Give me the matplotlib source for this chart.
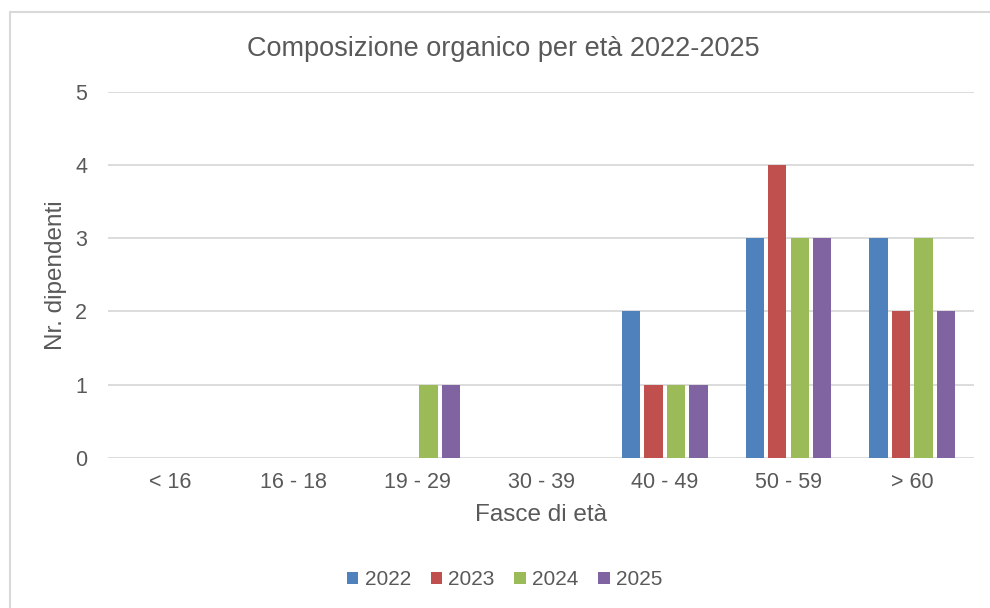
import matplotlib.pyplot as plt
import numpy as np
from matplotlib.patches import Rectangle

# %% Style
TEXT_COLOR = "#595959"
GRID_COLOR = "#D9D9D9"
COLORS = ["#4F81BD", "#C0504D", "#9BBB59", "#8064A2"]

plt.rcParams.update(
    {
        "font.family": ["Liberation Sans", "DejaVu Sans"],
        "font.size": 15,
        "text.color": TEXT_COLOR,
        "axes.labelcolor": TEXT_COLOR,
        "xtick.color": TEXT_COLOR,
        "ytick.color": TEXT_COLOR,
    }
)

# %% Data
age_groups = ["< 16", "16 - 18", "19 - 29", "30 - 39", "40 - 49", "50 - 59", "> 60"]
years = ["2022", "2023", "2024", "2025"]
counts_2022 = [0, 0, 0, 0, 2, 3, 3]
counts_2023 = [0, 0, 0, 0, 1, 4, 2]
counts_2024 = [0, 0, 1, 0, 1, 3, 3]
counts_2025 = [0, 0, 1, 0, 1, 3, 2]
series = [counts_2022, counts_2023, counts_2024, counts_2025]

# %% Plot
fig = plt.figure(figsize=(9.9, 6.08), dpi=100)
ax = fig.add_axes([0.109, 0.247, 0.875, 0.602])

# chart border (only top/left visible in the reference)
fig.patches.append(
    Rectangle((10 / 990, -0.05), 1.2, 1 - 12 / 608 + 0.05, transform=fig.transFigure,
              fill=False, edgecolor=GRID_COLOR, linewidth=1.5)
)

x = np.arange(len(age_groups))
step = 0.182
width = 0.148
for idx, vals in enumerate(series):
    ax.bar(x + (idx - 1.5) * step, vals, width=width, color=COLORS[idx],
           label=years[idx], zorder=3)

ax.set_xlim(-0.5, len(age_groups) - 0.5)
ax.set_ylim(0, 5)
ax.set_yticks(range(0, 6))
ax.set_xticks(x)
ax.set_xticklabels(age_groups)
ax.tick_params(axis="both", length=0, labelsize=15.5)
ax.tick_params(axis="y", pad=15)
ax.tick_params(axis="x", pad=10)
ax.grid(axis="y", color=GRID_COLOR, linewidth=1.3, zorder=0)
for s in ax.spines.values():
    s.set_visible(False)

# title is centred on the chart area, not the plot area
ax.set_title("Composizione organico per età 2022-2025", fontsize=19.5, pad=26, x=0.457)
ax.set_xlabel("Fasce di età", fontsize=17.5, labelpad=8)
ax.set_ylabel("Nr. dipendenti", fontsize=17.5, labelpad=6)

ax.legend(loc="center", bbox_to_anchor=(0.458, -0.333), ncol=4, frameon=False,
          fontsize=15, handlelength=0.55, handleheight=0.55, handletextpad=0.3,
          columnspacing=0.95)

fig.savefig("out.png", dpi=100)
